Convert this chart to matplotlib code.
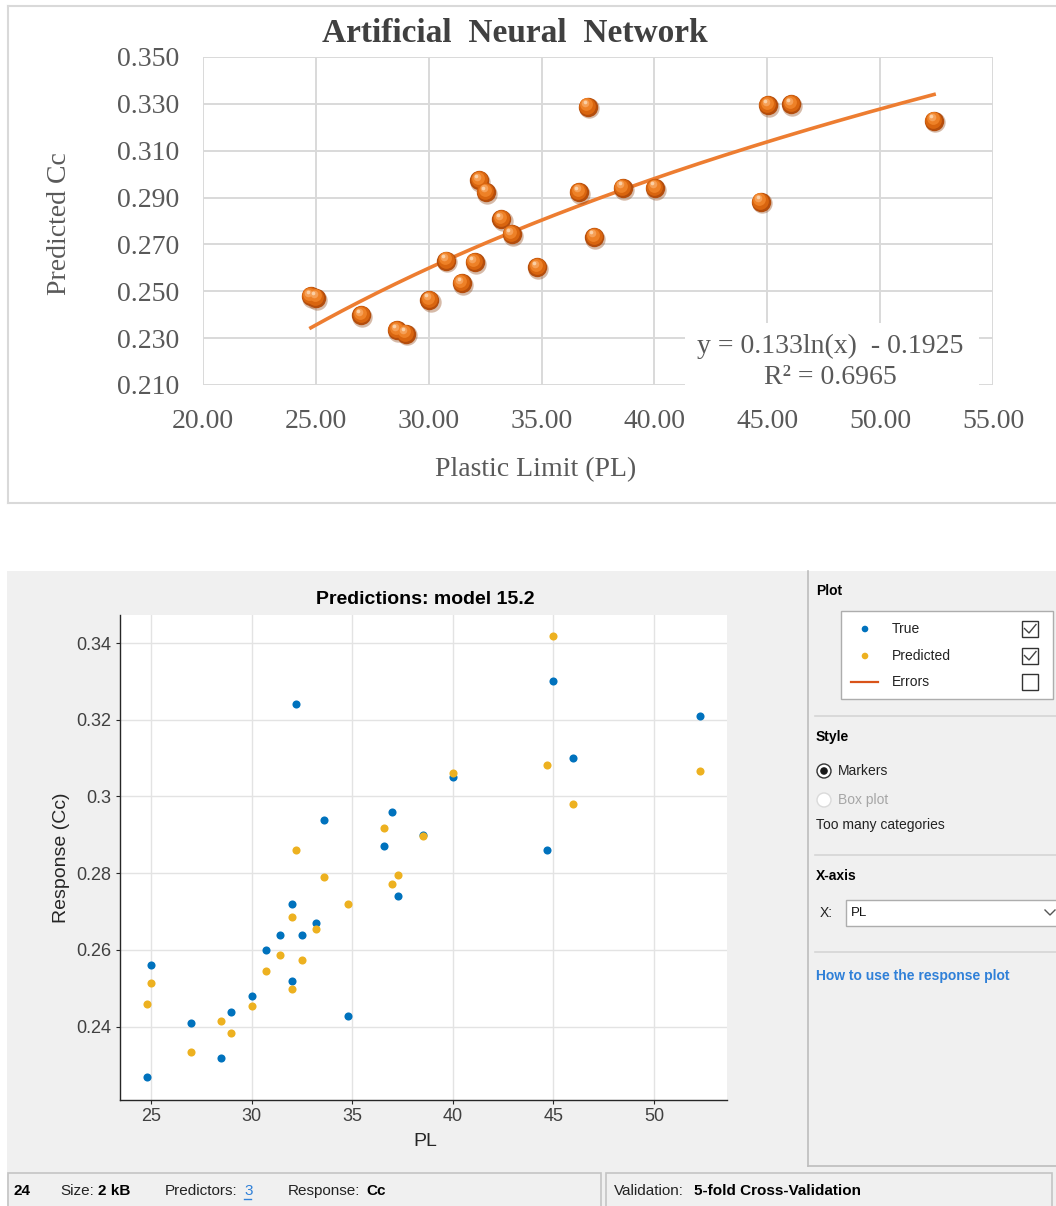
import matplotlib
matplotlib.use("Agg")
import matplotlib.pyplot as plt
import matplotlib.transforms as mtransforms
from matplotlib.patches import Rectangle, Circle
from matplotlib.lines import Line2D
import numpy as np

# ---- data: top chart (ANN predicted Cc vs plastic limit)
pl_ann = [24.78, 25.01, 27.01, 28.60, 28.99, 30.03, 30.78, 31.46, 32.03, 32.24, 32.54, 33.22,
          33.67, 34.81, 36.66, 37.04, 37.34, 38.60, 40.03, 44.72, 45.04, 46.06, 52.39]
cc_ann = [0.2478, 0.2472, 0.2397, 0.2333, 0.2319, 0.2463, 0.2630, 0.2534, 0.2623, 0.2973, 0.2923, 0.2807,
          0.2743, 0.2602, 0.2923, 0.3288, 0.2732, 0.2941, 0.2941, 0.2882, 0.3294, 0.3298, 0.3228]
trend_a = 0.133
trend_b = -0.1925
r2 = 0.6965

# ---- data: bottom chart (model 15.2 response plot)
pl = [24.8, 25.0, 27.0, 28.5, 29.0, 30.0, 30.7, 31.4, 32.0, 32.0, 32.2, 32.5,
      33.2, 33.6, 34.8, 36.6, 37.0, 37.3, 38.5, 40.0, 44.7, 45.0, 46.0, 52.3]
cc_true = [0.2268, 0.2560, 0.2409, 0.2318, 0.2438, 0.2480, 0.2600, 0.2639, 0.2720, 0.2520, 0.3241, 0.2639,
           0.2671, 0.2940, 0.2428, 0.2870, 0.2960, 0.2741, 0.2900, 0.3050, 0.2860, 0.3300, 0.3100, 0.3211]
cc_pred = [0.2460, 0.2515, 0.2334, 0.2414, 0.2383, 0.2453, 0.2545, 0.2586, 0.2687, 0.2499, 0.2860, 0.2574,
           0.2654, 0.2789, 0.2720, 0.2918, 0.2771, 0.2796, 0.2898, 0.3061, 0.3083, 0.3418, 0.2981, 0.3066]
y_ticks2 = [0.24, 0.26, 0.28, 0.30, 0.32, 0.34]
y_labels2 = ["0.24", "0.26", "0.28", "0.3", "0.32", "0.34"]

W, H = 1056, 1206
fig = plt.figure(figsize=(W / 100, H / 100), dpi=100)
fig.patch.set_facecolor("white")
# pixel coords, y going down
pxt = mtransforms.Affine2D().scale(1 / W, -1 / H).translate(0, 1) + fig.transFigure

SERIF = "Liberation Serif"
SANS = "Liberation Sans"


def ptext(x, y, s, **kw):
    kw.setdefault("family", SANS)
    return fig.text(x, y, s, transform=pxt, **kw)


def pline(xs, ys, **kw):
    fig.add_artist(Line2D(xs, ys, transform=pxt, **kw))


def prect(x0, y0, x1, y1, **kw):
    r = Rectangle((x0, y0), x1 - x0, y1 - y0, transform=pxt, **kw)
    fig.add_artist(r)
    return r


# ================= top chart =================
grid_c = "#D9D9D9"
txt_c = "#595959"
pline([8, 1056], [6, 6], color=grid_c, lw=1.5)
pline([8, 8], [6, 503], color=grid_c, lw=1.5)
pline([8, 1056], [503, 503], color=grid_c, lw=1.5)

ax1 = fig.add_axes([203 / W, 1 - 385 / H, 790 / W, 328 / H])
ax1.set_xlim(20, 55)
ax1.set_ylim(0.21, 0.35)
ax1.set_xticks(np.arange(20, 56, 5))
ax1.set_yticks(np.arange(0.21, 0.351, 0.02))
ax1.xaxis.set_major_formatter(lambda v, p: f"{v:.2f}")
ax1.yaxis.set_major_formatter(lambda v, p: f"{v:.3f}")
ax1.grid(True, color=grid_c, lw=1.4)
ax1.set_axisbelow(True)
for s in ax1.spines.values():
    s.set_visible(False)
ax1.tick_params(length=0, pad=17, labelsize=20, labelcolor=txt_c)
for lab in ax1.get_xticklabels() + ax1.get_yticklabels():
    lab.set_family(SERIF)

# trendline from the fitted log equation
xt = np.linspace(min(pl_ann), max(pl_ann), 200)
ax1.plot(xt, trend_a * np.log(xt) + trend_b, color="#ED7D31", lw=2.6, zorder=2)

# shaded "sphere" markers
def offs(dx, dy):
    return mtransforms.offset_copy(ax1.transData, fig=fig, x=dx, y=dy, units="points")

ax1.scatter(pl_ann, cc_ann, s=215, color="#8A3B08", alpha=0.35, lw=0, zorder=3, transform=offs(0.8, -1.2))
ax1.scatter(pl_ann, cc_ann, s=195, color="#B44D0C", lw=0, zorder=4)
ax1.scatter(pl_ann, cc_ann, s=145, color="#D9650F", lw=0, zorder=5, transform=offs(-0.5, 0.8))
ax1.scatter(pl_ann, cc_ann, s=85, color="#EE8127", lw=0, zorder=6, transform=offs(-1.1, 1.7))
ax1.scatter(pl_ann, cc_ann, s=30, color="#F6A057", lw=0, zorder=7, transform=offs(-1.8, 2.7))
ax1.scatter(pl_ann, cc_ann, s=7, color="#FBD0A6", lw=0, zorder=8, transform=offs(-2.2, 3.3))

ptext(515, 33, "Artificial  Neural  Network", family=SERIF, fontsize=24, fontweight="bold",
      color="#404040", ha="center", va="center")
ptext(60, 224, "Predicted Cc", family=SERIF, fontsize=20, color=txt_c, rotation=90,
      ha="center", va="center")
ptext(536, 470, "Plastic Limit (PL)", family=SERIF, fontsize=20, color=txt_c, ha="center", va="center")

prect(685, 323, 979, 396, facecolor="white", edgecolor="none", zorder=5)
ptext(830, 346, f"y = {trend_a}ln(x)  - {abs(trend_b)}", family=SERIF, fontsize=20, color=txt_c,
      ha="center", va="center", zorder=6)
ptext(830, 378, f"R\u00b2 = {r2}", family=SERIF, fontsize=20, color=txt_c,
      ha="center", va="center", zorder=6)

# ================= bottom app screenshot =================
bg = "#F0F0F0"
prect(7, 571, 1060, 1210, facecolor=bg, edgecolor="none", zorder=-5)

ax2 = fig.add_axes([120 / W, 1 - 1100 / H, 607 / W, 485 / H], zorder=2)
ax2.set_facecolor("white")
ax2.set_xlim(23.46, 53.63)
ax2.set_ylim(0.2209, 0.3473)
ax2.set_xticks([25, 30, 35, 40, 45, 50])
ax2.set_yticks(y_ticks2)
ax2.set_yticklabels(y_labels2)
ax2.grid(True, color="#E3E3E3", lw=1.0)
ax2.set_axisbelow(True)
ax2.spines["top"].set_visible(False)
ax2.spines["right"].set_visible(False)
for s in ["left", "bottom"]:
    ax2.spines[s].set_color("#262626")
    ax2.spines[s].set_linewidth(1.0)
ax2.tick_params(direction="out", length=3, width=0.8, color="#262626",
                labelsize=13, labelcolor="#404040", pad=3)
for lab in ax2.get_xticklabels() + ax2.get_yticklabels():
    lab.set_family(SANS)

ax2.scatter(pl, cc_true, s=34, color="#0072BD", lw=0, zorder=3)
ax2.scatter(pl, cc_pred, s=34, color="#EDB120", lw=0, zorder=4)

ptext(425, 599, "Predictions: model 15.2", fontsize=14, fontweight="bold", color="black",
      ha="center", va="center")
ptext(425, 1142, "PL", fontsize=14, color="#262626", ha="center", va="center")
ptext(61, 858, "Response (Cc)", fontsize=14, color="#262626", rotation=90, ha="center", va="center")

# ---- right options panel
sep_c = "#D5D5D5"
pline([808, 808], [571, 1166], color="#BDBDBD", lw=1.2)
pline([808, 1056], [1166, 1166], color="#BDBDBD", lw=1.2)

ptext(816, 591, "Plot", fontsize=10, fontweight="bold", va="center")
prect(841, 611, 1053, 699, facecolor="white", edgecolor="#ADADAD", lw=1.0)

legend_items = ["True", "Predicted", "Errors"]
legend_checked = [True, True, False]
legend_y = [629, 656, 682]
fig.add_artist(Circle((865, legend_y[0]), 3.3, transform=pxt, color="#0072BD", lw=0))
fig.add_artist(Circle((865, legend_y[1]), 3.3, transform=pxt, color="#EDB120", lw=0))
pline([851, 878], [legend_y[2], legend_y[2]], color="#D95319", lw=1.6)
for name, chk, yy in zip(legend_items, legend_checked, legend_y):
    ptext(892, yy, name, fontsize=10, color="#222222", va="center")
    prect(1022, yy - 8, 1038, yy + 8, facecolor="white", edgecolor="#333333", lw=1.0)
    if chk:
        pline([1024.5, 1029, 1036], [yy - 0.5, yy + 4, yy - 4.5], color="#444444", lw=1.0)

pline([815, 1056], [716, 716], color=sep_c, lw=1.2)
ptext(816, 737, "Style", fontsize=10, fontweight="bold", va="center")
fig.add_artist(Circle((824, 771), 7, transform=pxt, facecolor="white", edgecolor="#333333", lw=1.0))
fig.add_artist(Circle((824, 771), 3.8, transform=pxt, color="#1A1A1A", lw=0))
ptext(838, 771, "Markers", fontsize=10, color="#222222", va="center")
fig.add_artist(Circle((824, 800), 7, transform=pxt, facecolor="white", edgecolor="#DADADA", lw=1.0))
ptext(838, 800, "Box plot", fontsize=10, color="#A6A6A6", va="center")
ptext(816, 825, "Too many categories", fontsize=10, color="#222222", va="center")

pline([815, 1056], [855, 855], color=sep_c, lw=1.2)
ptext(816, 876, "X-axis", fontsize=10, fontweight="bold", va="center")
ptext(820, 913, "X:", fontsize=10, color="#222222", va="center")
prect(846, 900, 1060, 926, facecolor="white", edgecolor="#ADADAD", lw=1.0)
ptext(851, 913, "PL", fontsize=9.5, color="#111111", va="center")
pline([1045, 1050, 1055], [910, 915, 910], color="#555555", lw=1.0)

pline([815, 1056], [952, 952], color=sep_c, lw=1.2)
ptext(816, 976, "How to use the response plot", fontsize=10, fontweight="bold", color="#2F80D8",
      va="center")

# ---- status bar
prect(8, 1173, 601, 1212, facecolor=bg, edgecolor="#C4C4C4", lw=1.2)
prect(606, 1173, 1052, 1212, facecolor=bg, edgecolor="#C4C4C4", lw=1.2)
sy = 1191
fs = 11
ptext(13, sy, "24", fontsize=fs, fontweight="bold", va="center")
ptext(60, sy, "Size:", fontsize=fs, color="#222222", va="center")
ptext(98, sy, "2 kB", fontsize=fs, fontweight="bold", va="center")
ptext(165, sy, "Predictors:", fontsize=fs, color="#222222", va="center")
ptext(244, sy, "3", fontsize=fs, color="#2F80D8", va="center")
pline([244, 251], [sy + 8, sy + 8], color="#2F80D8", lw=1.0)
ptext(288, sy, "Response:", fontsize=fs, color="#222222", va="center")
ptext(366, sy, "Cc", fontsize=fs, fontweight="bold", va="center")
ptext(614, sy, "Validation:", fontsize=fs, color="#222222", va="center")
ptext(694, sy, "5-fold Cross-Validation", fontsize=fs, fontweight="bold", va="center")

plt.savefig("out.png", dpi=100)
